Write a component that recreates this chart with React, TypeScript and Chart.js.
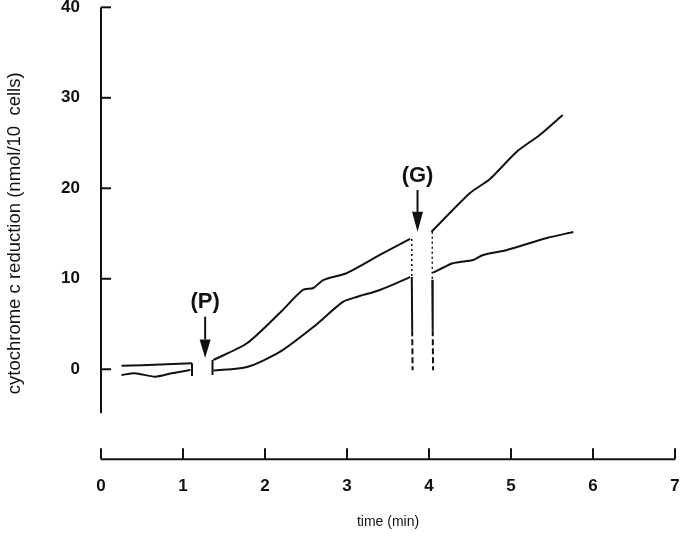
import React, { useEffect, useRef } from "react";
import { Chart, registerables } from "chart.js";

Chart.register(...registerables);

// ---- data (time in min, cytochrome c reduction in nmol/10^6 cells) ----
const upperT1 = [0.25, 0.5, 0.8, 1.11];
const upperY1 = [0.4, 0.45, 0.55, 0.66];
const lowerT1 = [0.25, 0.41, 0.66, 0.86, 1.09];
const lowerY1 = [-0.63, -0.44, -0.82, -0.44, -0.08];

const upperT2 = [1.37, 1.78, 2.18, 2.46, 2.59, 2.71, 3.0, 3.4, 3.77];
const upperY2 = [1.03, 2.87, 6.22, 8.76, 8.98, 9.86, 10.64, 12.63, 14.4];
const lowerT2 = [1.37, 1.78, 2.18, 2.59, 2.95, 3.12, 3.4, 3.77];
const lowerY2 = [-0.15, 0.25, 1.91, 4.67, 7.44, 7.99, 8.76, 10.18];

const upperT3 = [4.03, 4.5, 4.74, 5.07, 5.35, 5.63];
const upperY3 = [15.2, 19.48, 21.0, 24.04, 25.89, 28.1];
const lowerT3 = [4.05, 4.29, 4.54, 4.66, 4.95, 5.44, 5.76];
const lowerY3 = [10.67, 11.72, 12.08, 12.63, 13.18, 14.51, 15.17];

// pen marks at the additions (vertical strokes)
const pMarkT = [1.11, 1.36];
const pMarkTop = [0.66, 1.03];
const pMarkBottom = [-0.74, -0.63];

const gMarkT = [3.79, 4.04];
const gMarkTop = [14.4, 15.2];
const gMarkMid = [10.2, 9.9];
const gMarkLow = [4.3, 4.3];
const gMarkBottom = [-0.1, -0.1];

// annotations
const annLabels = ["(P)", "(G)"];
const annX = [1.27, 3.86];
const annTextY = [7.44, 21.36];
const annArrowTop = [5.81, 19.8];
const annArrowHead = [3.3, 17.4];
const annArrowTip = [1.25, 15.2];

// axes
const xTicks = [0, 1, 2, 3, 4, 5, 6, 7];
const yTicks = [0, 10, 20, 30, 40];
const yAxisBottom = -4.86;
const yMin = -9.95;
const yMax = 40;

const INK = "#111";
const FONT = "'Liberation Sans', Arial, Helvetica, sans-serif";

function pts(t: number[], y: number[]) {
  return t.map((v, i) => ({ x: v, y: y[i] }));
}

function lineDs(data: { x: number; y: number }[], width = 2, dash: number[] = [], tension = 0.25) {
  return {
    data,
    borderColor: INK,
    borderWidth: width,
    borderDash: dash,
    pointRadius: 0,
    tension,
    fill: false,
  };
}

function zeroPadding(s: any) {
  s.paddingTop = 0;
  s.paddingBottom = 0;
  s.paddingLeft = 0;
  s.paddingRight = 0;
}

const axesPlugin = {
  id: "axesPlugin",
  afterDraw(chart: any) {
    const ctx = chart.ctx;
    const xs = chart.scales.x;
    const ys = chart.scales.y;
    ctx.save();
    ctx.strokeStyle = INK;
    ctx.lineWidth = 2;
    // y axis
    const ax = xs.getPixelForValue(0);
    ctx.beginPath();
    ctx.moveTo(ax, ys.getPixelForValue(yMax));
    ctx.lineTo(ax, ys.getPixelForValue(yAxisBottom));
    ctx.stroke();
    yTicks.forEach((v) => {
      const py = ys.getPixelForValue(v);
      ctx.beginPath();
      ctx.moveTo(ax, py);
      ctx.lineTo(ax + 10, py);
      ctx.stroke();
    });
    // x axis
    const by = chart.chartArea.bottom;
    ctx.beginPath();
    ctx.moveTo(xs.getPixelForValue(0), by);
    ctx.lineTo(xs.getPixelForValue(7), by);
    ctx.stroke();
    xTicks.forEach((v) => {
      const px = xs.getPixelForValue(v);
      ctx.beginPath();
      ctx.moveTo(px, by);
      ctx.lineTo(px, by - 11);
      ctx.stroke();
    });
    // annotations
    ctx.fillStyle = INK;
    ctx.font = `bold 22px ${FONT}`;
    ctx.textAlign = "center";
    ctx.textBaseline = "middle";
    annLabels.forEach((label, i) => {
      const px = xs.getPixelForValue(annX[i]);
      ctx.fillText(label, px, ys.getPixelForValue(annTextY[i]));
      const top = ys.getPixelForValue(annArrowTop[i]);
      const head = ys.getPixelForValue(annArrowHead[i]);
      const tip = ys.getPixelForValue(annArrowTip[i]);
      ctx.lineWidth = 2;
      ctx.beginPath();
      ctx.moveTo(px, top);
      ctx.lineTo(px, head);
      ctx.stroke();
      ctx.beginPath();
      ctx.moveTo(px - 5.5, head);
      ctx.lineTo(px + 5.5, head);
      ctx.lineTo(px, tip);
      ctx.closePath();
      ctx.fill();
    });
    ctx.restore();
  },
};

export default function App() {
  const ref = useRef<HTMLCanvasElement | null>(null);

  useEffect(() => {
    if (!ref.current) return;
    Chart.defaults.font.family = FONT;
    Chart.defaults.color = INK;

    const datasets: any[] = [
      lineDs(pts(upperT1, upperY1)),
      lineDs(pts(lowerT1, lowerY1)),
      lineDs(pts(upperT2, upperY2)),
      lineDs(pts(lowerT2, lowerY2)),
      lineDs(pts(upperT3, upperY3)),
      lineDs(pts(lowerT3, lowerY3)),
    ];
    pMarkT.forEach((t, i) => {
      datasets.push(lineDs([{ x: t, y: pMarkTop[i] }, { x: t, y: pMarkBottom[i] }], 2, [], 0));
    });
    gMarkT.forEach((t, i) => {
      datasets.push(lineDs([{ x: t, y: gMarkTop[i] }, { x: t, y: gMarkMid[i] }], 1.5, [2, 3], 0));
      datasets.push(lineDs([{ x: t, y: gMarkMid[i] }, { x: t + 0.005, y: gMarkLow[i] }], 2, [], 0));
      datasets.push(lineDs([{ x: t + 0.005, y: gMarkLow[i] }, { x: t + 0.01, y: gMarkBottom[i] }], 2, [6, 3], 0));
    });

    const chart = new Chart(ref.current, {
      type: "line",
      data: { datasets },
      plugins: [axesPlugin],
      options: {
        animation: false,
        responsive: false,
        devicePixelRatio: 1,
        layout: { autoPadding: false, padding: { top: 7.3, right: 10, left: 0, bottom: 0 } },
        plugins: { legend: { display: false }, tooltip: { enabled: false } },
        scales: {
          x: {
            type: "linear",
            min: 0,
            max: 7,
            afterFit: (s: any) => {
              s.height = 77.7;
              zeroPadding(s);
            },
            afterBuildTicks: (s: any) => {
              s.ticks = xTicks.map((v) => ({ value: v }));
            },
            ticks: { font: { size: 17, weight: "bold" }, color: INK, padding: 17, maxRotation: 0 },
            grid: { display: false, drawTicks: false },
            border: { display: false },
            title: {
              display: true,
              text: "time (min)",
              font: { size: 14 },
              color: INK,
              padding: { top: 0, bottom: 6.6 },
            },
          },
          y: {
            type: "linear",
            min: yMin,
            max: yMax,
            afterFit: (s: any) => {
              s.width = 101;
              zeroPadding(s);
            },
            afterBuildTicks: (s: any) => {
              s.ticks = yTicks.map((v) => ({ value: v }));
            },
            ticks: { font: { size: 17, weight: "bold" }, color: INK, padding: 21 },
            grid: { display: false, drawTicks: false },
            border: { display: false },
            title: {
              display: true,
              text: "cytochrome c reduction (nmol/10  cells)",
              font: { size: 18.5 },
              color: INK,
              padding: { top: 4.3, bottom: 0 },
            },
          },
        },
      },
    });
    return () => chart.destroy();
  }, []);

  return (
    <div style={{ position: "absolute", left: 0, top: 0, width: 685, height: 537, background: "#fff" }}>
      <canvas ref={ref} width={685} height={537} style={{ width: 685, height: 537, display: "block" }} />
    </div>
  );
}
